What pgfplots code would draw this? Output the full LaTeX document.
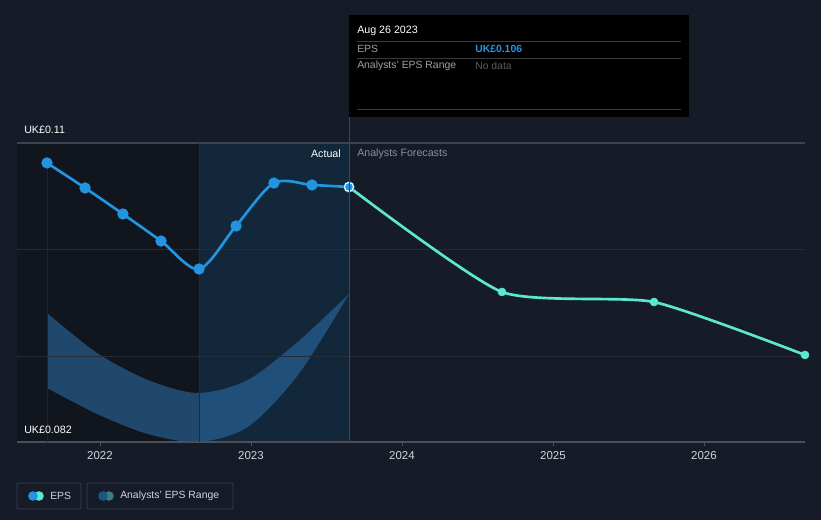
\documentclass[border=0pt]{standalone}
\usepackage{pgfplots}
\pgfplotsset{compat=1.18}
\usepgfplotslibrary{fillbetween}
\usepackage{fontspec}
\setmainfont{Liberation Sans}
\definecolor{bg}{HTML}{161C27}
\definecolor{darkreg}{HTML}{11151D}
\definecolor{bluereg}{HTML}{13273B}
\definecolor{gridc}{HTML}{262C37}
\definecolor{topline}{HTML}{3D434E}
\definecolor{axisc}{HTML}{4A4F59}
\definecolor{eps}{HTML}{2394DF}
\definecolor{fc}{HTML}{5CE8D0}
\definecolor{band}{HTML}{2A6AA3}
\definecolor{ticktext}{HTML}{D0D4DA}
\definecolor{graytext}{HTML}{8A9099}
\definecolor{vline}{HTML}{1C2C40}
\definecolor{vline0}{HTML}{1A2535}
\definecolor{vline2}{HTML}{2B4A68}
\definecolor{legborder}{HTML}{3A404B}
\definecolor{sep}{HTML}{3A3A3A}
\definecolor{nodata}{HTML}{5A5A5A}
\definecolor{legband}{HTML}{1F5585}
\definecolor{legband2}{HTML}{3A7F80}
\begin{document}
\begin{tikzpicture}
\begin{axis}[
  set layers,
  at={(0,0)}, anchor=south west,
  scale only axis, width=591pt, height=224.25pt,
  xmin=2021.4503, xmax=2026.669, ymin=0.082, ymax=0.11,
  axis line style={draw=none},
  xtick={2022,2023,2024,2025,2026},
  xticklabels={2022,2023,2024,2025,2026},
  xtick pos=left,
  xticklabel style={font=\fontsize{8.6}{10}\selectfont, text=ticktext, yshift=-0.5pt},
  x tick style={draw=axisc, line width=0.6pt},
  major tick length=3pt, tick align=outside,
  ytick=\empty,
  clip=false,
]
% background and regions
\begin{pgfonlayer}{axis background}
\fill[bg] ([shift={(-12.75pt,-58.5pt)}]rel axis cs:0,0) rectangle ([shift={(12pt,107.25pt)}]rel axis cs:1,1);
\fill[darkreg] (axis cs:2021.4503,0.082) rectangle (axis cs:2022.656,0.11);
\fill[bluereg] (axis cs:2022.656,0.082) rectangle (axis cs:2023.649,0.11);
\end{pgfonlayer}
% analysts range band
\addplot[name path=upper, draw=none, smooth, tension=0.5] coordinates {
 (2021.649,0.09408) (2021.980,0.09034) (2022.317,0.08781) (2022.648,0.08659)
 (2022.979,0.08781) (2023.316,0.09146) (2023.649,0.09586)};
\addplot[name path=lower, draw=none, smooth, tension=0.5] coordinates {
 (2021.649,0.08706) (2021.980,0.08463) (2022.317,0.08275) (2022.648,0.08200)
 (2022.979,0.08341) (2023.316,0.08837) (2023.649,0.09586)};
\addplot[fill=band, fill opacity=0.6, draw=none] fill between[of=upper and lower];
% grid lines
\draw[gridc, line width=0.7pt] (axis cs:2021.4503,0.09) -- (axis cs:2026.669,0.09);
\draw[gridc, line width=0.7pt] (axis cs:2021.4503,0.10) -- (axis cs:2026.669,0.10);
\draw[topline, line width=0.8pt] (axis cs:2021.4503,0.11) -- (axis cs:2026.669,0.11);
\draw[axisc, line width=0.8pt] (axis cs:2021.4503,0.082) -- (axis cs:2026.669,0.082);
% vertical lines
\draw[vline0, line width=0.6pt] (axis cs:2021.649,0.082) -- (axis cs:2021.649,0.1081);
\draw[vline, line width=0.6pt] (axis cs:2022.656,0.082) -- (axis cs:2022.656,0.11);
% forecast
\addplot[fc, line width=2pt, smooth, tension=0.35] coordinates {
 (2023.649,0.10588) (2024.662,0.09605) (2025.669,0.09511) (2026.669,0.09015)};
\addplot[only marks, mark=*, mark size=3pt, fc, mark options={fill=fc, draw=fc}] coordinates {
 (2024.662,0.09605) (2025.669,0.09511) (2026.669,0.09015)};
% actual EPS
\addplot[eps, line width=2pt, smooth, tension=0.5, mark=*, mark size=3.2pt, mark options={fill=eps, draw=eps}] coordinates {
 (2021.649,0.10813) (2021.901,0.10579) (2022.152,0.10335) (2022.404,0.10082)
 (2022.656,0.09820) (2022.901,0.10223) (2023.152,0.10625) (2023.404,0.10607) (2023.649,0.10588)};
\addplot[only marks, mark=*, mark size=3.4pt, mark options={fill=eps, draw=white, line width=0.8pt}] coordinates {(2023.649,0.10588)};
\end{axis}
\begin{scope}[x=0.75pt,y=-0.75pt,shift={(-12.75pt,331.5pt)}]
\draw[vline2, line width=0.6pt] (349,117) -- (349,442);
% y labels
\node[anchor=west, text=white, font=\fontsize{8}{9}\selectfont, inner sep=0] at (24,130) {UK£0.11};
\node[anchor=west, text=white, font=\fontsize{8}{9}\selectfont, inner sep=0] at (24,430) {UK£0.082};
\node[anchor=east, text=white, font=\fontsize{8}{9}\selectfont, inner sep=0] at (341,154) {Actual};
\node[anchor=west, text=graytext, font=\fontsize{8}{9}\selectfont, inner sep=0] at (357,154) {Analysts Forecasts};
% tooltip
\fill[black] (349,15) rectangle (689,117);
\node[anchor=west, text=white, font=\fontsize{8}{9}\selectfont, inner sep=0] at (357,31) {Aug 26 2023};
\draw[sep, line width=0.6pt] (357,41) -- (681,41);
\draw[sep, line width=0.6pt] (357,58) -- (681,58);
\draw[sep, line width=0.6pt] (357,109) -- (681,109);
\node[anchor=west, text=graytext!85, font=\fontsize{7.8}{9}\selectfont, inner sep=0] at (357,49) {EPS};
\node[anchor=west, text=eps, font=\bfseries\fontsize{7.8}{9}\selectfont, inner sep=0] at (475,49) {UK£0.106};
\node[anchor=west, text=graytext!85, font=\fontsize{7.8}{9}\selectfont, inner sep=0] at (357,66) {Analysts' EPS Range};
\node[anchor=west, text=nodata, font=\fontsize{7.8}{9}\selectfont, inner sep=0] at (475,66) {No data};
% legend
\draw[legborder, line width=0.6pt, rounded corners=1.5pt] (17,483) rectangle (81,509);
\fill[fc] (39,496) circle (3.6pt);
\fill[eps] (33,496) circle (3.6pt);
\node[anchor=west, text=ticktext, font=\fontsize{7.8}{9}\selectfont, inner sep=0] at (50,496) {EPS};
\draw[legborder, line width=0.6pt, rounded corners=1.5pt] (87,483) rectangle (233,509);
\fill[legband2] (109,496) circle (3.6pt);
\fill[legband] (103,496) circle (3.6pt);
\node[anchor=west, text=ticktext, font=\fontsize{7.8}{9}\selectfont, inner sep=0] at (120,496) {Analysts' EPS Range};
\end{scope}
\end{tikzpicture}
\end{document}
